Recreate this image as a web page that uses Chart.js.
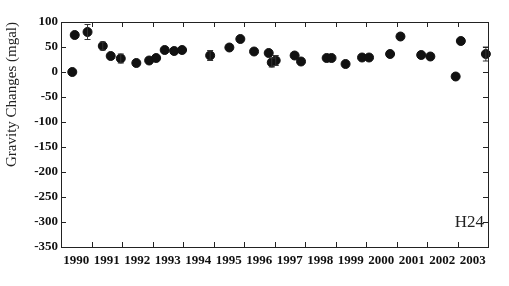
<!DOCTYPE html>
<html>
<head>
<meta charset="utf-8">
<script src="https://cdn.jsdelivr.net/npm/chart.js@4"></script>
<style>
html,body{margin:0;padding:0;background:#fff;}
#wrap{width:509px;height:286px;}
</style>
</head>
<body>
<div id="wrap"><canvas id="c" width="509" height="286"></canvas></div>
<script>
// ---- data ----
const years = [1990.37, 1990.45, 1990.87, 1991.37, 1991.63, 1991.96, 1992.47, 1992.89, 1993.12, 1993.40, 1993.71, 1993.97, 1994.89, 1995.52, 1995.88, 1996.33, 1996.81, 1996.91, 1997.04, 1997.66, 1997.87, 1998.71, 1998.87, 1999.33, 1999.87, 2000.10, 2000.79, 2001.13, 2001.81, 2002.11, 2002.94, 2003.11, 2003.93];
const gravity = [0, 74, 80, 52, 32, 27, 18, 23, 28, 44, 42, 44, 33, 49, 66, 41, 38, 19, 23, 33, 21, 28, 28, 16, 29, 29, 36, 71, 34, 31, -9, 62, 36];
const errors = [0, 0, 15, 8, 0, 9, 0, 0, 0, 0, 0, 0, 10, 0, 0, 0, 0, 9, 10, 0, 0, 0, 0, 0, 0, 0, 0, 0, 0, 0, 0, 0, 14];
const yearLabels = [1990, 1991, 1992, 1993, 1994, 1995, 1996, 1997, 1998, 1999, 2000, 2001, 2002, 2003];
const yTicks = [100, 50, 0, -50, -100, -150, -200, -250, -300, -350];
const stationName = 'H24';
const yTitle = 'Gravity Changes (mgal)';

const points = years.map((x, i) => ({x: x, y: gravity[i]}));

const framePlugin = {
  id: 'frame',
  afterDatasetsDraw(chart) {
    const ctx = chart.ctx, a = chart.chartArea;
    const xs = chart.scales.x, ys = chart.scales.y;
    ctx.save();
    // error bars
    ctx.strokeStyle = '#333';
    ctx.lineWidth = 1;
    points.forEach((p, i) => {
      if (!errors[i]) return;
      const px = xs.getPixelForValue(p.x);
      const t = ys.getPixelForValue(p.y + errors[i]);
      const b = ys.getPixelForValue(p.y - errors[i]);
      ctx.beginPath();
      ctx.moveTo(px, t); ctx.lineTo(px, b);
      ctx.moveTo(px - 3, t); ctx.lineTo(px + 3, t);
      ctx.moveTo(px - 3, b); ctx.lineTo(px + 3, b);
      ctx.stroke();
    });
    // frame
    ctx.strokeStyle = '#222';
    ctx.lineWidth = 1;
    ctx.strokeRect(Math.round(a.left) + 0.5, Math.round(a.top) + 0.5, Math.round(a.right - a.left), Math.round(a.bottom - a.top));
    // inward ticks
    const L = 5;
    ctx.beginPath();
    for (let yr = yearLabels[0] + 1; yr <= yearLabels[yearLabels.length - 1]; yr++) {
      const px = Math.round(xs.getPixelForValue(yr)) + 0.5;
      ctx.moveTo(px, a.bottom); ctx.lineTo(px, a.bottom - L);
      ctx.moveTo(px, a.top); ctx.lineTo(px, a.top + L);
    }
    yTicks.forEach(v => {
      const py = Math.round(ys.getPixelForValue(v)) + 0.5;
      ctx.moveTo(a.left, py); ctx.lineTo(a.left + L, py);
      ctx.moveTo(a.right, py); ctx.lineTo(a.right - L, py);
    });
    ctx.stroke();
    // station label
    ctx.fillStyle = '#222';
    ctx.font = '17px "Liberation Serif", serif';
    ctx.textAlign = 'right';
    ctx.textBaseline = 'middle';
    ctx.fillText(stationName, a.right - 4, ys.getPixelForValue(-300) + 1);
    ctx.restore();
  }
};

new Chart(document.getElementById('c'), {
  type: 'scatter',
  data: {
    datasets: [{
      data: points,
      backgroundColor: '#111',
      borderColor: '#111',
      pointRadius: 4.5,
      pointHoverRadius: 4.5,
      clip: false
    }]
  },
  options: {
    responsive: false,
    animation: false,
    events: [],
    layout: {padding: {top: 22, right: 21, left: 0, bottom: 0}},
    plugins: {legend: {display: false}, tooltip: {enabled: false}},
    scales: {
      x: {
        type: 'linear',
        min: yearLabels[0],
        max: yearLabels[yearLabels.length - 1] + 1,
        afterBuildTicks(scale) { scale.ticks = yearLabels.map(v => ({value: v + 0.5})); },
        afterFit(scale) { scale.height = 39; },
        grid: {display: false, drawTicks: false},
        border: {display: true, color: '#222'},
        ticks: {
          padding: 6,
          maxRotation: 0,
          autoSkip: false,
          color: '#111',
          font: {family: '"Liberation Serif", serif', size: 13, weight: 'bold'},
          callback: v => String(Math.floor(v))
        }
      },
      y: {
        min: -350,
        max: 100,
        afterBuildTicks(scale) { scale.ticks = yTicks.map(v => ({value: v})); },
        afterFit(scale) { scale.width = 61; },
        grid: {display: false, drawTicks: false},
        border: {display: true, color: '#222'},
        ticks: {
          padding: 3,
          color: '#111',
          font: {family: '"Liberation Serif", serif', size: 13, weight: 'bold'}
        },
        title: {
          display: true,
          text: yTitle,
          align: 'end',
          color: '#222',
          padding: {top: 3, bottom: 0},
          font: {family: '"Liberation Serif", serif', size: 15}
        }
      }
    }
  },
  plugins: [framePlugin]
});
</script>
</body>
</html>
